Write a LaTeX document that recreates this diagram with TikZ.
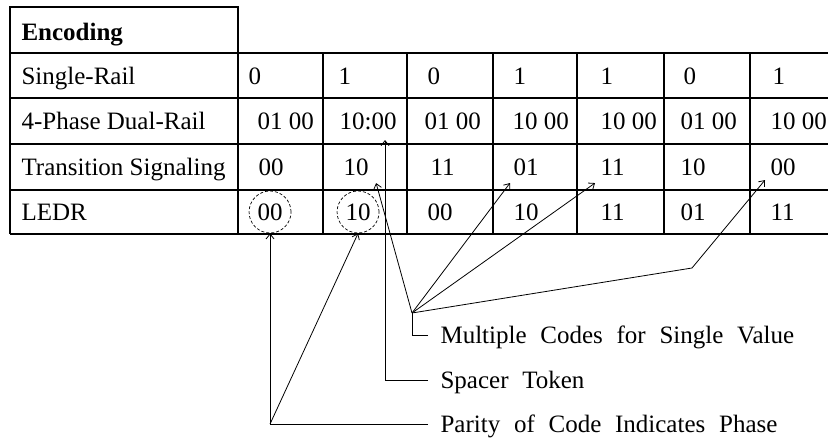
\documentclass[tikz,border=0pt]{standalone}
\usepackage{fontspec}
\setmainfont{Liberation Serif}
\newfontfamily\notefont[WordSpace=2.2]{Liberation Serif}
\usetikzlibrary{positioning, arrows, arrows.meta, calc}

\begin{document}
\begin{tikzpicture}[x=1pt,y=-1pt,line width=1.1pt,
    txt/.style={anchor=west,inner sep=0pt,text height=17pt,text depth=0pt,font=\fontsize{25}{28}\selectfont},
    note/.style={txt,inner xsep=12pt,font=\notefont\fontsize{25}{28}\selectfont},
    ring/.style={draw,circle,minimum size=42pt,inner sep=0pt,line width=0.7pt,dash pattern=on 3pt off 2pt},
    pointer/.style={-{Straight Barb[length=5pt,width=8pt]},line width=0.8pt}]
    \useasboundingbox (0,0) rectangle (828,439);

    % table
    \draw (10,7) rectangle (238,53);
    \foreach \y in {53,98,144,190,234} \draw (10,\y) -- (828,\y);
    \draw (10,53) -- (10,234);
    \foreach \x in {238,323,407,493,577,664,750} \draw (\x,53) -- (\x,234);

    \node[txt,font=\fontsize{25}{28}\selectfont\bfseries] (E) at (21,32) {Encoding};
    \node[txt] (SR) at (21,75.5) {Single-Rail};
    \node[txt] (DR) at (21,121) {4-Phase Dual-Rail};
    \node[txt] (TS) at (21,167) {Transition Signaling};
    \node[txt] (LE) at (21,212) {LEDR};

    \foreach \x/\v [count=\i] in {248/0,338/1,427/0,513/1,600/1,683/0,772/1}
        \node[txt] (S-\i) at (\x,75.5) {\v};
    \foreach \x/\v [count=\i] in {257/01 00,339/10:00,424/01 00,512/10 00,600/10 00,680/01 00,770/10 00}
        \node[txt] (D-\i) at (\x,121) {\v};
    \foreach \x/\v [count=\i] in {258/00,343/10,430/11,513/01,600/11,680/10,770/00}
        \node[txt] (T-\i) at (\x,167) {\v};
    \foreach \x/\v [count=\i] in {257/00,345/10,427/00,513/10,600/11,680/01,770/11}
        \node[txt] (L-\i) at (\x,212) {\v};

    \node[ring] (R1) at (L-1) {};
    \node[ring] (R2) at (L-2) {};

    % notes
    \node[note] (Mul) at (428,335) {Multiple Codes for Single Value};
    \node[note] (Spc) at (428,380) {Spacer Token};
    \node[note] (Par) at (428,424) {Parity of Code Indicates Phase};

    \coordinate (mv) at (412,313);
    \coordinate (pv) at (R1.south |- Par.west);
    \coordinate (kink) at (692,268);

    \draw[line width=0.8pt] (Par.west) -- (pv);
    \draw[pointer] (pv) -- (R1.south);
    \draw[pointer] (pv) -- (R2.south);

    \draw[pointer] (Spc.west) -| ($(D-2.south east)+(-12,10)$);

    \draw[line width=0.8pt] (Mul.west) -| (mv);
    \draw[pointer] (mv) -- ($(T-2.south east)+(7,7)$);
    \draw[pointer] (mv) -- ($(T-4.south west)+(-3,7)$);
    \draw[pointer] (mv) -- ($(T-5.south west)+(-5,7)$);
    \draw[pointer] (mv) -- (kink) -- ($(T-7.south west)+(-5,4)$);
\end{tikzpicture}
\end{document}
